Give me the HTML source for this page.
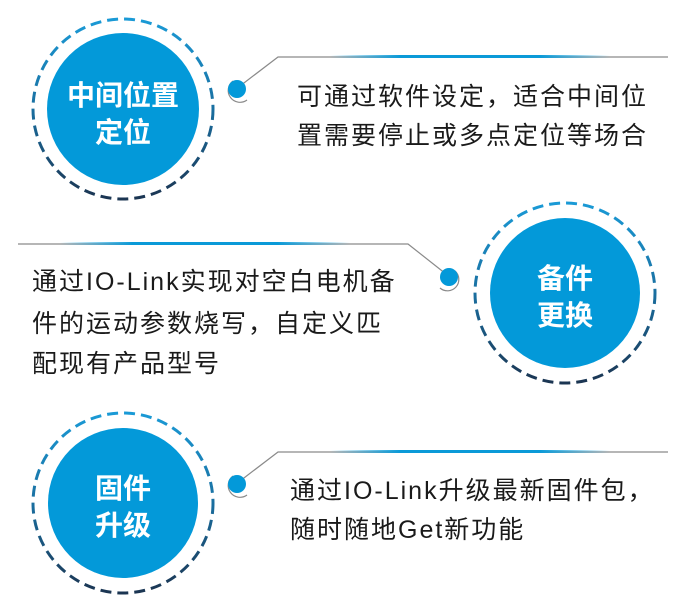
<!DOCTYPE html>
<html><head><meta charset="utf-8"><style>
body{margin:0;background:#fff;width:686px;height:611px;overflow:hidden;}
svg{position:absolute;left:0;top:0}
</style></head><body>
<svg width="686" height="611" viewBox="0 0 686 611" font-family="'Liberation Sans','Noto Sans CJK SC',sans-serif">
<defs>
<linearGradient id="dg" x1="0" y1="0" x2="0" y2="1">
<stop offset="0" stop-color="#1a9ad6"/><stop offset="0.5" stop-color="#1a6fa0"/><stop offset="1" stop-color="#1b3552"/>
</linearGradient>
<linearGradient id="hl" x1="0" y1="0" x2="1" y2="0">
<stop offset="0" stop-color="#0a9ad8" stop-opacity="0"/><stop offset="0.25" stop-color="#0a9ad8"/><stop offset="0.75" stop-color="#0a9ad8"/><stop offset="1" stop-color="#0a9ad8" stop-opacity="0"/>
</linearGradient>
</defs>
<g fill="none" stroke="url(#dg)" stroke-width="3" stroke-dasharray="11 6">
<circle cx="123" cy="109" r="90"/>
<circle cx="565" cy="293" r="90"/>
<circle cx="123" cy="503" r="90"/>
</g>
<g fill="#0399d9">
<circle cx="123" cy="109" r="76"/>
<circle cx="565" cy="293" r="75"/>
<circle cx="123" cy="503" r="75"/>
</g>
<g fill="#fff" font-weight="bold" font-size="28" text-anchor="middle">
<text x="123" y="105">中间位置</text><text x="123" y="142">定位</text>
<text x="565" y="288">备件</text><text x="565" y="325">更换</text>
<text x="123" y="498">固件</text><text x="123" y="535">升级</text>
</g>
<g fill="none" stroke="#8a8a8a" stroke-width="1.2">
<polyline points="240,86 278,57 668,57"/>
<polyline points="446,274 408,244 18,244"/>
<polyline points="240,481 278,452 668,452"/>
<path d="M233,81 A11,11 0 0 0 247,100"/>
<path d="M455,271 A11,11 0 0 1 440,288"/>
<path d="M233,476 A11,11 0 0 0 247,495"/>
</g>
<g fill="url(#hl)">
<rect x="330" y="55" width="280" height="3"/>
<rect x="60" y="242" width="290" height="3"/>
<rect x="330" y="450" width="280" height="3"/>
</g>
<g fill="#0399d9">
<circle cx="237" cy="89" r="9"/>
<circle cx="449" cy="277" r="9"/>
<circle cx="237" cy="484" r="9"/>
</g>
<g fill="#1a1a1a" font-size="25" letter-spacing="2">
<text x="297" y="105">可通过软件设定，适合中间位</text>
<text x="297" y="144">置需要停止或多点定位等场合</text>
<text x="32" y="290">通过IO-Link实现对空白电机备</text>
<text x="32" y="332">件的运动参数烧写，自定义匹</text>
<text x="32" y="372">配现有产品型号</text>
<text x="290" y="499">通过IO-Link升级最新固件包，</text>
<text x="290" y="538">随时随地Get新功能</text>
</g>
</svg>
</body></html>
